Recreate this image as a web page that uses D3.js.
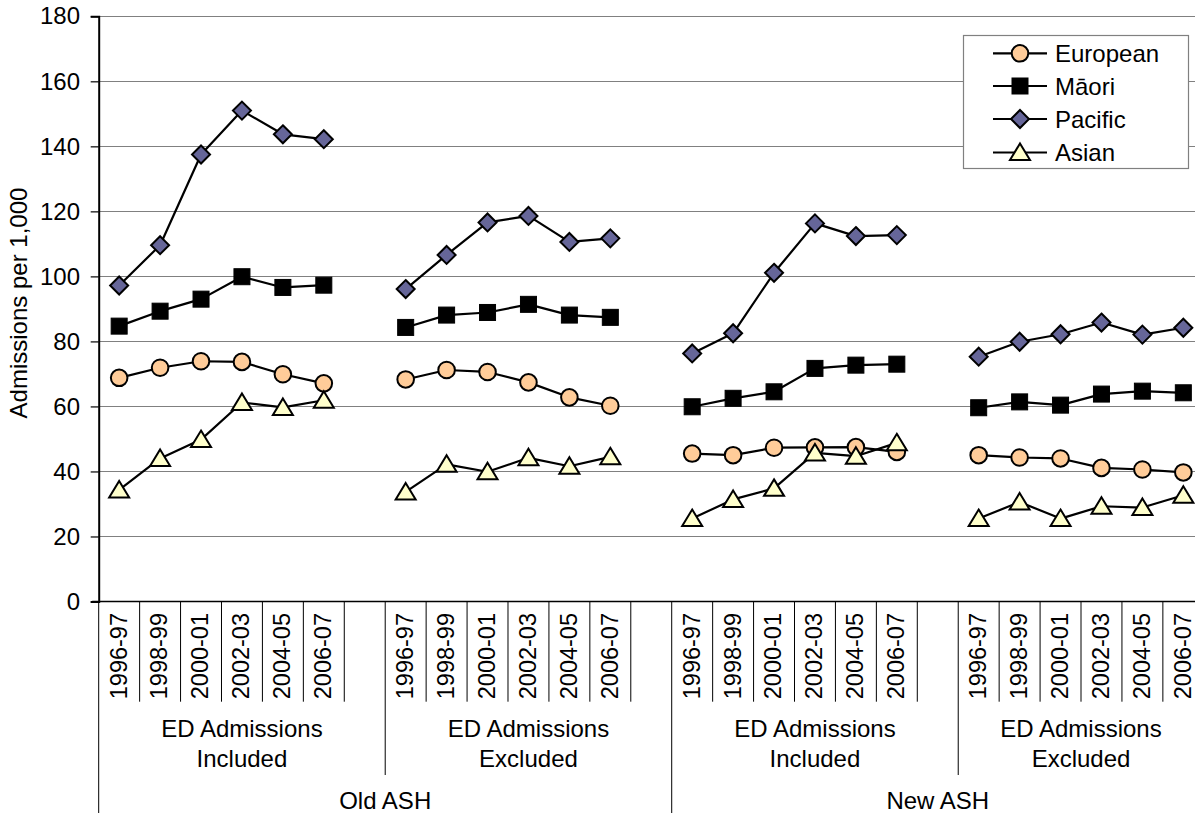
<!DOCTYPE html>
<html>
<head>
<meta charset="utf-8">
<script src="https://cdn.jsdelivr.net/npm/d3@7"></script>
<style>
  html, body { margin: 0; padding: 0; background: #fff; }
  svg { display: block; }
  text { font-family: "Liberation Sans", Arial, sans-serif; fill: #000; }
</style>
</head>
<body>
<svg id="chart" width="1195" height="813"></svg>
<script>
// ---------------- DATA ----------------
const years = ["1996-97", "1998-99", "2000-01", "2002-03", "2004-05", "2006-07"];
const groupLabels = [
  ["ED Admissions", "Included"],
  ["ED Admissions", "Excluded"],
  ["ED Admissions", "Included"],
  ["ED Admissions", "Excluded"]
];
const topLabels = ["Old ASH", "New ASH"];
const seriesNames = ["European", "Māori", "Pacific", "Asian"];
const yTicks = [0, 20, 40, 60, 80, 100, 120, 140, 160, 180];

// values: 4 groups x 6 years each
const european = [68.8, 71.9, 73.9, 73.7, 69.9, 67.1,
                  68.3, 71.2, 70.6, 67.4, 62.8, 60.2,
                  45.5, 45.0, 47.3, 47.4, 47.5, 46.0,
                  45.0, 44.3, 44.0, 41.1, 40.6, 39.7];
const maori    = [84.7, 89.3, 93.0, 99.9, 96.6, 97.3,
                  84.3, 88.1, 88.9, 91.4, 88.1, 87.4,
                  59.9, 62.5, 64.5, 71.7, 72.7, 73.0,
                  59.6, 61.4, 60.4, 63.8, 64.7, 64.2];
const pacific  = [97.2, 109.6, 137.5, 151.0, 143.7, 142.2,
                  96.1, 106.6, 116.6, 118.6, 110.6, 111.7,
                  76.3, 82.5, 101.1, 116.3, 112.4, 112.7,
                  75.3, 79.9, 82.2, 85.8, 82.1, 84.2];
const asian    = [34.3, 44.0, 49.8, 61.2, 59.7, 61.9,
                  33.7, 42.2, 39.9, 44.2, 41.6, 44.5,
                  25.5, 31.4, 34.8, 45.7, 44.7, 48.8,
                  25.5, 30.6, 25.5, 29.3, 28.9, 32.7];

// ---------------- LAYOUT ----------------
const W = 1195, H = 813;
const plotLeft = 98.7, plotRight = 1203.8, plotTop = 16.3, plotBottom = 601.5;
const nGroups = groupLabels.length;
const slotsPerGroup = years.length + 1;           // one blank slot between groups
const nSlots = nGroups * slotsPerGroup - 1;       // 27

const svg = d3.select("#chart");
const FS = 24;

const x = d3.scaleBand().domain(d3.range(nSlots)).range([plotLeft, plotRight]).padding(0);
const bw = x.bandwidth();
const cx = i => x(i) + bw / 2;
const y = d3.scaleLinear().domain([0, 180]).range([plotBottom, plotTop]);

svg.append("defs").append("clipPath").attr("id", "vis")
  .append("rect").attr("x", 0).attr("y", 0).attr("width", W).attr("height", H);
const root = svg.append("g").attr("clip-path", "url(#vis)");

// gridlines
root.append("g").selectAll("line").data(yTicks.filter(d => d > 0)).join("line")
  .attr("x1", plotLeft).attr("x2", W)
  .attr("y1", d => Math.round(y(d)) + 0.5).attr("y2", d => Math.round(y(d)) + 0.5)
  .attr("stroke", "#808080").attr("stroke-width", 1.2);

// y axis
const yAxis = d3.axisLeft(y).tickValues(yTicks).tickSize(8).tickPadding(10.7).tickFormat(d3.format("d"));
const yg = root.append("g").attr("transform", `translate(${plotLeft},0)`).call(yAxis);
yg.select(".domain").attr("stroke", "#000").attr("stroke-width", 2);
yg.selectAll(".tick line").attr("stroke", "#000").attr("stroke-width", 1.2);
yg.selectAll(".tick text").attr("font-size", FS).attr("font-family", '"Liberation Sans", Arial, sans-serif').attr("fill", "#000");

// y axis title
root.append("text")
  .attr("transform", `translate(27,303) rotate(-90)`)
  .attr("text-anchor", "middle").attr("font-size", FS)
  .text("Admissions per 1,000");

// x axis line
root.append("line").attr("x1", plotLeft - 6.5).attr("x2", W)
  .attr("y1", plotBottom).attr("y2", plotBottom)
  .attr("stroke", "#000").attr("stroke-width", 1.5);

// category separators
const seps = d3.range(0, nSlots + 1);
root.append("g").selectAll("line").data(seps).join("line")
  .attr("x1", k => k === nSlots ? plotRight : x(k))
  .attr("x2", k => k === nSlots ? plotRight : x(k))
  .attr("y1", plotBottom)
  .attr("y2", k => {
    if (k % (2 * slotsPerGroup) === 0) return H;
    if (k % slotsPerGroup === 0) return 775;
    return 701.7;
  })
  .attr("stroke", "#000").attr("stroke-width", 1);

// year labels
const yearSlots = [];
for (let g = 0; g < nGroups; g++) years.forEach((yr, j) => yearSlots.push({ slot: g * slotsPerGroup + j, label: yr }));
root.append("g").selectAll("text").data(yearSlots).join("text")
  .attr("transform", d => `translate(${cx(d.slot) + 7.4},613) rotate(-90)`)
  .attr("text-anchor", "end").attr("font-size", 23.5)
  .text(d => d.label);

// group labels
groupLabels.forEach((lines, g) => {
  const s0 = g * slotsPerGroup;
  const s1 = Math.min(s0 + slotsPerGroup, nSlots);
  const xs = x(s0), xe = s1 === nSlots ? plotRight : x(s1);
  const mid = (xs + xe) / 2;
  lines.forEach((t, li) => {
    root.append("text").attr("x", mid).attr("y", 737 + li * 30)
      .attr("text-anchor", "middle").attr("font-size", FS).text(t);
  });
});

// top labels
topLabels.forEach((t, i) => {
  const s0 = i * 2 * slotsPerGroup;
  const s1 = Math.min(s0 + 2 * slotsPerGroup, nSlots);
  const xs = x(s0), xe = s1 === nSlots ? plotRight : x(s1);
  root.append("text").attr("x", (xs + xe) / 2).attr("y", 809)
    .attr("text-anchor", "middle").attr("font-size", FS).text(t);
});

// ---------------- SERIES ----------------
const styles = {
  "European": { fill: "#FFCC99", shape: "circle" },
  "Māori":    { fill: "#000000", shape: "square" },
  "Pacific":  { fill: "#666699", shape: "diamond" },
  "Asian":    { fill: "#FFFFCC", shape: "triangle" }
};
const seriesValues = [european, maori, pacific, asian];

function toSlots(vals) {
  const arr = new Array(nSlots).fill(null);
  vals.forEach((v, i) => {
    const g = Math.floor(i / years.length), j = i % years.length;
    arr[g * slotsPerGroup + j] = v;
  });
  return arr;
}

function drawMarker(sel, shape, fill) {
  if (shape === "circle") {
    sel.append("circle").attr("r", 8.3).attr("fill", fill).attr("stroke", "#000").attr("stroke-width", 2);
  } else if (shape === "square") {
    sel.append("rect").attr("x", -8).attr("y", -8).attr("width", 16).attr("height", 16)
      .attr("fill", fill).attr("stroke", "#000").attr("stroke-width", 1);
  } else if (shape === "diamond") {
    sel.append("path").attr("d", "M0,-9 L9,0 L0,9 L-9,0 Z")
      .attr("fill", fill).attr("stroke", "#000").attr("stroke-width", 2);
  } else {
    sel.append("path").attr("d", "M0,-9 L10,7.5 L-10,7.5 Z")
      .attr("fill", fill).attr("stroke", "#000").attr("stroke-width", 2).attr("stroke-linejoin", "miter");
  }
}

const line = d3.line().defined(d => d.v !== null).x(d => cx(d.i)).y(d => y(d.v));

seriesNames.forEach((name, si) => {
  const st = styles[name];
  const data = toSlots(seriesValues[si]).map((v, i) => ({ i, v }));
  const g = root.append("g");
  g.append("path").attr("d", line(data)).attr("fill", "none")
    .attr("stroke", "#000").attr("stroke-width", 2.2).attr("stroke-linejoin", "round");
  g.selectAll("g.m").data(data.filter(d => d.v !== null)).join("g").attr("class", "m")
    .attr("transform", d => `translate(${cx(d.i)},${y(d.v)})`)
    .each(function() { drawMarker(d3.select(this), st.shape, st.fill); });
});

// ---------------- LEGEND ----------------
const lg = root.append("g");
lg.append("rect").attr("x", 963.5).attr("y", 35.5).attr("width", 225).attr("height", 133)
  .attr("fill", "#fff").attr("stroke", "#808080").attr("stroke-width", 1.2);
const rowY = [53.3, 86, 119, 152.5];
seriesNames.forEach((name, i) => {
  const st = styles[name];
  const r = lg.append("g").attr("transform", `translate(0,${rowY[i]})`);
  r.append("line").attr("x1", 993).attr("x2", 1047).attr("y1", 0).attr("y2", 0)
    .attr("stroke", "#000").attr("stroke-width", 2.2);
  const m = r.append("g").attr("transform", "translate(1020,0)");
  drawMarker(m, st.shape, st.fill);
  r.append("text").attr("x", 1055).attr("y", 8.5).attr("font-size", FS).text(name);
});
</script>
</body>
</html>
